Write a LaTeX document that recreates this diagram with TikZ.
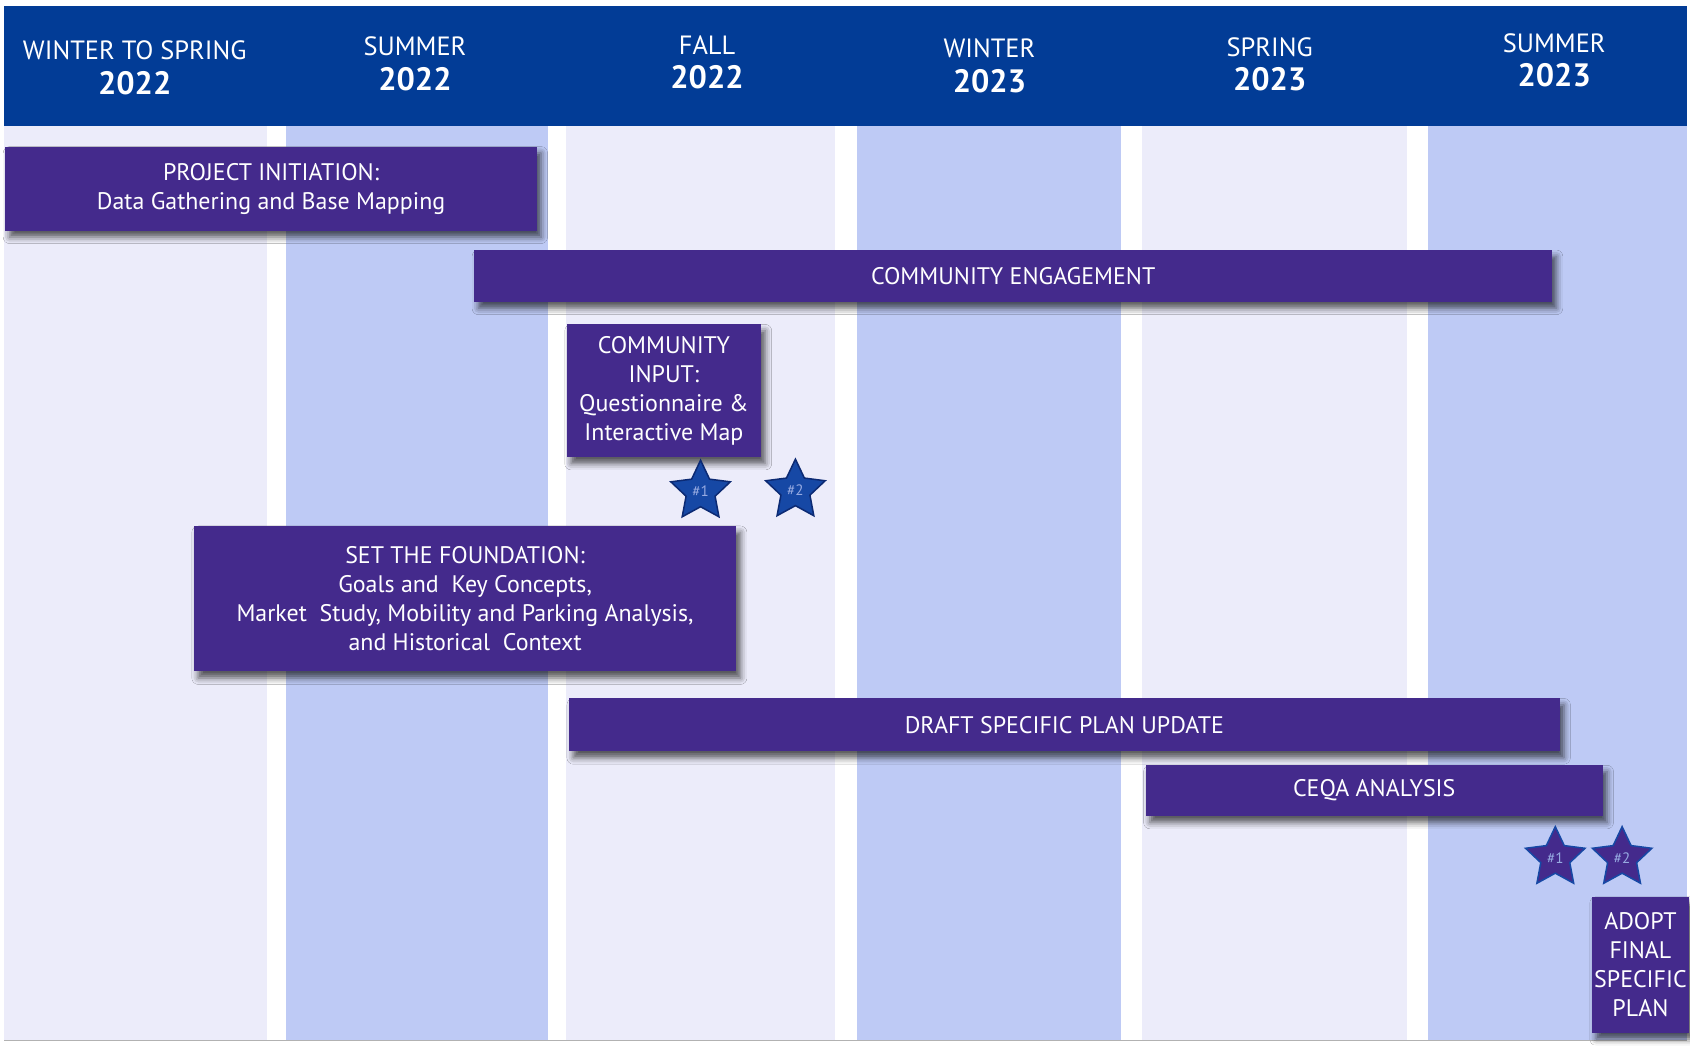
\documentclass[tikz,border=0pt]{standalone}
\usepackage{fontspec}
\setmainfont{PT Sans}
\usetikzlibrary{shapes.geometric,shadows.blur}
\definecolor{hdr}{RGB}{2,60,150}
\definecolor{pale}{RGB}{236,236,250}
\definecolor{colblue}{RGB}{190,202,245}
\definecolor{barpurple}{RGB}{68,42,140}
\definecolor{starblue}{RGB}{22,72,165}
\definecolor{starline}{RGB}{12,42,115}
\definecolor{startext}{RGB}{150,170,225}
\tikzset{
  season/.style={text=white,font=\fontsize{24.5}{28}\selectfont,inner sep=0pt},
  year/.style={text=white,font=\fontsize{30}{34}\selectfont\bfseries,inner sep=0pt},
  bar/.style={fill=barpurple,text=white,inner sep=0pt,align=center,
    font=\fontsize{22.2}{27}\selectfont,
    blur shadow={shadow xshift=4pt,shadow yshift=-6pt,shadow blur radius=6pt,shadow opacity=65}},
  milestone/.style={star,star points=5,star point ratio=2.05,minimum size=58pt,inner sep=0pt,
    fill=starblue,draw=starline,line width=1.4pt,text=startext,font=\fontsize{14}{15}\selectfont},
  milestonep/.style={milestone,fill=barpurple,draw=starblue}
}
\begin{document}
\begin{tikzpicture}[x=1pt,y=-1pt]
\useasboundingbox (0,0) rectangle (1568,970);
\fill[white] (0,0) rectangle (1568,970);
% columns
\fill[pale]    (4,117) rectangle (248,965);
\fill[colblue] (265,117) rectangle (508,965);
\fill[pale]    (525,117) rectangle (775,965);
\fill[colblue] (795,117) rectangle (1040,965);
\fill[pale]    (1060,117) rectangle (1305,965);
\fill[colblue] (1325,117) rectangle (1565,965);
\draw[gray!60,line width=1pt] (4,965) -- (1565,965);
% header
\fill[hdr] (4,6) rectangle (1565,117);
\node[season] (s1) at (125,47) {WINTER TO SPRING};
\node[year]   (y1) at (125,77) {2022};
\node[season] (s2) at (385,43) {SUMMER};
\node[year]   (y2) at (385,73) {2022};
\node[season] (s3) at (656,42) {FALL};
\node[year]   (y3) at (656,72) {2022};
\node[season] (s4) at (918,45) {WINTER};
\node[year]   (y4) at (918,75) {2023};
\node[season] (s5) at (1178,44) {SPRING};
\node[year]   (y5) at (1178,73) {2023};
\node[season] (s6) at (1442,40) {SUMMER};
\node[year]   (y6) at (1442,70) {2023};
% bars
\node[bar,minimum width=493pt,minimum height=78pt] (init) at (251.5,175)
  {PROJECT INITIATION:\\Data Gathering and Base Mapping};
\node[bar,minimum width=1000pt,minimum height=48pt] (eng) at (940,256)
  {COMMUNITY ENGAGEMENT};
\node[bar,minimum width=180pt,minimum height=123pt] (input) at (616,362.5)
  {COMMUNITY\\INPUT:\\Questionnaire \&\\Interactive Map};
\node[milestone] (st1) at (650,456) {\#1};
\node[milestone] (st2) at (738,455) {\#2};
\node[bar,minimum width=503pt,minimum height=135pt] (found) at (431.5,555.5)
  {SET THE FOUNDATION:\\Goals and\ \ Key Concepts,\\Market\ \ Study, Mobility and Parking Analysis,\\and Historical\ \ Context};
\node[bar,minimum width=919pt,minimum height=49pt] (draft) at (987.5,672.5)
  {DRAFT SPECIFIC PLAN UPDATE};
\node[bar,minimum width=424pt,minimum height=47pt] (ceqa) at (1275,733.5)
  {CEQA ANALYSIS};
\node[milestonep] (st3) at (1443,796) {\#1};
\node[milestonep] (st4) at (1505,796) {\#2};
\node[bar,minimum width=90pt,minimum height=126pt] (adopt) at (1522,895)
  {ADOPT\\FINAL\\SPECIFIC\\PLAN};
\end{tikzpicture}
\end{document}
